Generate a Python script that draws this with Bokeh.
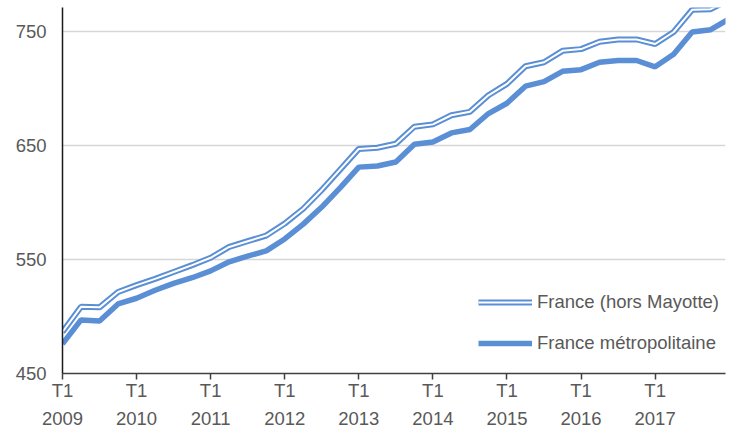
from bokeh.plotting import figure
from bokeh.models import FixedTicker, Range1d, Legend, LegendItem
from bokeh.embed import file_html
from bokeh.resources import INLINE

# Quarterly index: 0 = T1 2009
quarters = list(range(37))
tick_positions = [0, 4, 8, 12, 16, 20, 24, 28, 32, 36]
tick_labels = ["T1\n2009", "T1\n2010", "T1\n2011", "T1\n2012", "T1\n2013",
               "T1\n2014", "T1\n2015", "T1\n2016", "T1\n2017", "T1\n2018"]
y_ticks = [450, 550, 650, 750]

france = [486.5, 508.5, 508, 521.5, 527.5, 533, 539, 545, 551.5, 561,
          566, 571, 581.5, 594.5, 611, 629, 647, 648, 651.5, 666.5,
          668.5, 676.5, 679.5, 694, 704, 719.5, 723, 733, 734.5, 741,
          743, 743, 739, 749.5, 769, 769.5, 778]
metro = [476, 497, 496, 511, 516, 523, 529, 534, 540, 548,
         553, 557.5, 568, 581, 596, 613, 631, 632, 635.5, 651,
         653, 661, 664, 678, 687, 702, 706, 715, 716.5, 723,
         724.5, 724.5, 719, 730, 749.5, 751.5, 761]

label_france = "France (hors Mayotte)"
label_metro = "France métropolitaine"

BLUE = "#5a8fd6"
TXT = "#595959"
FONT = "Liberation Sans"
FS = "18.5px"

p = figure(width=743, height=431, output_backend="svg", toolbar_location=None,
           x_range=Range1d(0, 35.8), y_range=Range1d(450, 771),
           min_border_left=62, min_border_right=18, min_border_top=7,
           min_border_bottom=0)
p.outline_line_color = None
p.background_fill_color = "white"
p.border_fill_color = "white"

r_fr_out = p.line(quarters, france, line_color=BLUE, line_width=6)
r_fr_in = p.line(quarters, france, line_color="white", line_width=2)
r_me = p.line(quarters, metro, line_color=BLUE, line_width=5.5)

# axes
p.xaxis.ticker = FixedTicker(ticks=tick_positions)
p.xaxis.major_label_overrides = {t: l for t, l in zip(tick_positions, tick_labels)}
p.xaxis.minor_tick_line_color = None
p.xaxis.major_tick_out = 6
p.xaxis.major_tick_in = 0
p.xaxis.major_tick_line_color = "#404040"
p.xaxis.major_tick_line_width = 1.5
p.xaxis.axis_line_color = "#404040"
p.xaxis.axis_line_width = 1.5
p.xaxis.major_label_text_font = FONT
p.xaxis.major_label_text_font_size = FS
p.xaxis.major_label_text_color = TXT
p.xaxis.major_label_text_line_height = 1.35
p.xaxis.major_label_standoff = 0

p.yaxis.ticker = FixedTicker(ticks=y_ticks)
p.yaxis.minor_tick_line_color = None
p.yaxis.major_tick_out = 0
p.yaxis.major_tick_in = 0
p.yaxis.axis_line_color = "#1a1a1a"
p.yaxis.axis_line_width = 1.5
p.yaxis.major_label_text_font = FONT
p.yaxis.major_label_text_font_size = FS
p.yaxis.major_label_text_color = TXT
p.yaxis.major_label_standoff = 16

p.xgrid.grid_line_color = None
p.ygrid.grid_line_color = "#d6d6d6"
p.ygrid.grid_line_width = 1.3

legend = Legend(items=[LegendItem(label=label_france, renderers=[r_fr_out, r_fr_in]),
                       LegendItem(label=label_metro, renderers=[r_me])],
                location=(416, 19), orientation="vertical")
legend.padding = 0
legend.margin = 0
legend.spacing = 19
legend.glyph_width = 54
legend.glyph_height = 22
legend.label_height = 22
legend.label_standoff = 5
legend.border_line_color = None
legend.background_fill_alpha = 0
legend.label_text_font = FONT
legend.label_text_font_size = FS
legend.label_text_color = TXT
p.add_layout(legend, "center")

open("out.html", "w").write(file_html(p, INLINE))
